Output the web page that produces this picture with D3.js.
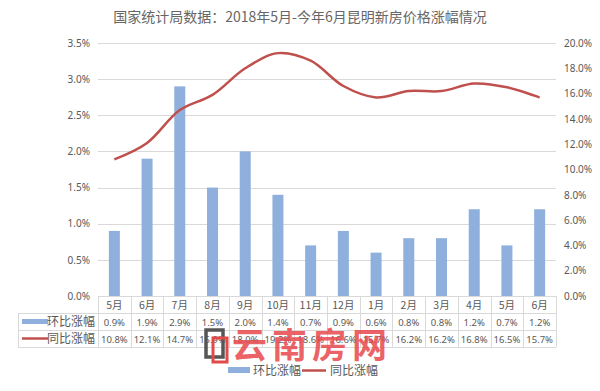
<!DOCTYPE html>
<html><head><meta charset="utf-8">
<script src="https://cdn.jsdelivr.net/npm/d3@7"></script>
<style>body{margin:0;background:#fff;} svg{display:block;font-family:"Noto Sans CJK SC","Microsoft YaHei",sans-serif;}</style>
</head><body><svg id="c" width="600" height="391"></svg>
<script>
const categories = ["5月","6月","7月","8月","9月","10月","11月","12月","1月","2月","3月","4月","5月","6月"];
const momValues = [0.9,1.9,2.9,1.5,2.0,1.4,0.7,0.9,0.6,0.8,0.8,1.2,0.7,1.2];
const yoyValues = [10.8,12.1,14.7,15.9,18.0,19.2,18.6,16.6,15.7,16.2,16.2,16.8,16.5,15.7];
const leftTicks = [0,0.5,1.0,1.5,2.0,2.5,3.0,3.5];
const rightTicks = [0,2,4,6,8,10,12,14,16,18,20];
const seriesNames = ["环比涨幅","同比涨幅"];
const title = "国家统计局数据：2018年5月-今年6月昆明新房价格涨幅情况";

const svg = d3.select("#c");
const txt = "#595959", grid = "#d9d9d9", blue = "#8fb0dc", red = "#c0504d";
const x0 = 98, x1 = 556, yTop = 43, yBot = 296;
const x = d3.scaleBand().domain(d3.range(categories.length)).range([x0, x1]);
const yL = d3.scaleLinear().domain([0, 3.5]).range([yBot, yTop]);
const yR = d3.scaleLinear().domain([0, 20]).range([yBot, yTop]);

svg.append("text").attr("x", 300).attr("y", 22).attr("text-anchor","middle")
  .attr("font-size", 14).attr("fill", "#666").text(title);

// gridlines
svg.append("g").selectAll("line").data(leftTicks.slice(1)).join("line")
  .attr("x1", x0).attr("x2", x1).attr("y1", d=>Math.round(yL(d))+0.5).attr("y2", d=>Math.round(yL(d))+0.5)
  .attr("stroke", grid);

// left axis
const la = svg.append("g").attr("transform", `translate(${x0},0)`)
  .call(d3.axisLeft(yL).tickValues(leftTicks).tickFormat(d=>d.toFixed(1)+"%").tickSize(0).tickPadding(8));
la.select(".domain").remove();
la.selectAll("text").attr("fill", txt).attr("font-size", 10).attr("font-family","'Noto Sans','DejaVu Sans',sans-serif");
// right axis
const ra = svg.append("g").attr("transform", `translate(${x1},0)`)
  .call(d3.axisRight(yR).tickValues(rightTicks).tickFormat(d=>d.toFixed(1)+"%").tickSize(0).tickPadding(8));
ra.select(".domain").remove();
ra.selectAll("text").attr("fill", txt).attr("font-size", 10).attr("font-family","'Noto Sans','DejaVu Sans',sans-serif");

// bars
const bw = 11;
svg.append("g").selectAll("rect").data(momValues).join("rect")
  .attr("x", (d,i)=>x(i)+x.bandwidth()/2-bw/2).attr("width", bw)
  .attr("y", d=>yL(d)).attr("height", d=>yBot-yL(d)).attr("fill", blue);

// line
const line = d3.line().x((d,i)=>x(i)+x.bandwidth()/2).y(d=>yR(d)).curve(d3.curveCatmullRom.alpha(0.5));
svg.append("path").datum(yoyValues).attr("d", line).attr("fill","none").attr("stroke", red).attr("stroke-width", 2.5);

// data table
const tLeft = 18, r0 = 296, r1 = 313, r2 = 330, r3 = 347;
const tg = svg.append("g");
tg.append("line").attr("x1", x0).attr("x2", x1).attr("y1", r0+0.5).attr("y2", r0+0.5).attr("stroke", grid);
[r1, r2, r3].forEach(r => tg.append("line").attr("x1", tLeft).attr("x2", x1).attr("y1", r+0.5).attr("y2", r+0.5).attr("stroke", grid));
d3.range(categories.length+1).forEach(i => {
  const xx = Math.round(i < categories.length ? x(i) : x1) + 0.5;
  tg.append("line").attr("x1", xx).attr("x2", xx).attr("y1", r0).attr("y2", r3).attr("stroke", grid);
});
tg.append("line").attr("x1", tLeft+0.5).attr("x2", tLeft+0.5).attr("y1", r1).attr("y2", r3).attr("stroke", grid);

const cell = (row, vals, fmt) => tg.append("g").selectAll("text").data(vals).join("text")
  .attr("x", (d,i)=>x(i)+x.bandwidth()/2).attr("y", row).attr("text-anchor","middle")
  .attr("font-size", 10).attr("fill", txt).text(fmt);
cell(r0+13, categories, d=>d).attr("font-size", 10.5);
cell(r1+12.5, momValues, d=>d.toFixed(1)+"%").attr("font-family","'Noto Sans','DejaVu Sans',sans-serif").attr("font-size", 9.5);
cell(r2+12.5, yoyValues, d=>d.toFixed(1)+"%").attr("font-family","'Noto Sans','DejaVu Sans',sans-serif").attr("font-size", 9.5);

// row headers
tg.append("rect").attr("x", 22).attr("y", r1+6).attr("width", 26).attr("height", 5).attr("fill", blue);
tg.append("text").attr("x", 95).attr("y", r1+13).attr("text-anchor","end").attr("font-size", 12).attr("fill", txt).text(seriesNames[0]);
tg.append("line").attr("x1", 22).attr("x2", 48).attr("y1", r2+8.5).attr("y2", r2+8.5).attr("stroke", red).attr("stroke-width", 2.5);
tg.append("text").attr("x", 95).attr("y", r2+13).attr("text-anchor","end").attr("font-size", 12).attr("fill", txt).text(seriesNames[1]);

// watermark
const wm = svg.append("g");
wm.append("rect").attr("x", 206).attr("y", 330).attr("width", 17).attr("height", 27).attr("fill","none").attr("stroke","#555").attr("stroke-width",3.5);
wm.append("rect").attr("x", 213).attr("y", 338).attr("width", 14).attr("height", 24).attr("fill","none").attr("stroke","#e24a4a").attr("stroke-width",3);
wm.append("text").attr("x", 232).attr("y", 358).attr("font-size", 35).attr("font-weight","bold")
  .attr("fill","#e8474a").attr("fill-opacity",0.85).attr("letter-spacing", 5).text("云南房网");

// bottom legend
const lg = svg.append("g");
lg.append("rect").attr("x", 228).attr("y", 367).attr("width", 22).attr("height", 6).attr("fill", blue);
lg.append("text").attr("x", 253).attr("y", 375).attr("font-size", 12).attr("fill", txt).text(seriesNames[0]);
lg.append("line").attr("x1", 302).attr("x2", 326).attr("y1", 370.5).attr("y2", 370.5).attr("stroke", red).attr("stroke-width", 2.5);
lg.append("text").attr("x", 330).attr("y", 375).attr("font-size", 12).attr("fill", txt).text(seriesNames[1]);
</script></body></html>
